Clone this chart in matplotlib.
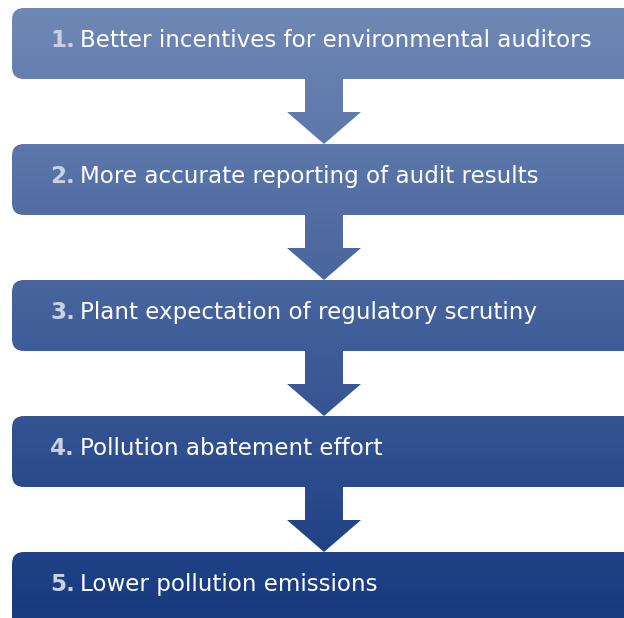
import matplotlib.pyplot as plt
import numpy as np
from matplotlib.patches import FancyBboxPatch, Polygon
from matplotlib.colors import LinearSegmentedColormap

# --- data -------------------------------------------------------------------
step_numbers = ["1.", "2.", "3.", "4.", "5."]
step_labels = [
    "Better incentives for environmental auditors",
    "More accurate reporting of audit results",
    "Plant expectation of regulatory scrutiny",
    "Pollution abatement effort",
    "Lower pollution emissions",
]

W, H = 624, 618
BOX_TOP0 = 8
BOX_H = 71
STEP = 136
BOX_X0 = 12

cmap = LinearSegmentedColormap.from_list("flow", ["#7189b6", "#173a80"])

fig = plt.figure(figsize=(W / 100, H / 100), dpi=100)
ax = fig.add_axes([0, 0, 1, 1])
ax.set_xlim(0, W)
ax.set_ylim(H, 0)
ax.axis("off")

grad = np.linspace(0, 1, 256).reshape(-1, 1)


def gradient_fill(patch):
    ax.add_patch(patch)
    img = ax.imshow(grad, cmap=cmap, extent=(0, W, H, 0), aspect="auto",
                    interpolation="bicubic", zorder=1)
    img.set_clip_path(patch)


last = len(step_labels) - 1
for i, (num, label) in enumerate(zip(step_numbers, step_labels)):
    top = BOX_TOP0 + i * STEP
    h = BOX_H if i < last else H - top + 30
    box = FancyBboxPatch((BOX_X0, top), W + 40, h,
                         boxstyle="round,pad=0,rounding_size=12",
                         facecolor="none", edgecolor="none")
    gradient_fill(box)
    ty = top + BOX_H / 2 - 3
    ax.text(50, ty, num, color="#c9d1e2", fontsize=16.6,
            fontweight="bold", va="center", ha="left", zorder=3,
            family="DejaVu Sans")
    ax.text(80, ty, label, color="white", fontsize=16.6,
            va="center", ha="left", zorder=3, family="DejaVu Sans")

    if i < last:
        b = top + BOX_H
        cx = 324
        arrow = Polygon([
            (cx - 19, b), (cx + 19, b), (cx + 19, b + 33), (cx + 37, b + 33),
            (cx, b + 65), (cx - 37, b + 33), (cx - 19, b + 33),
        ], closed=True, facecolor="none", edgecolor="none")
        gradient_fill(arrow)

fig.savefig("out.png", dpi=100)
